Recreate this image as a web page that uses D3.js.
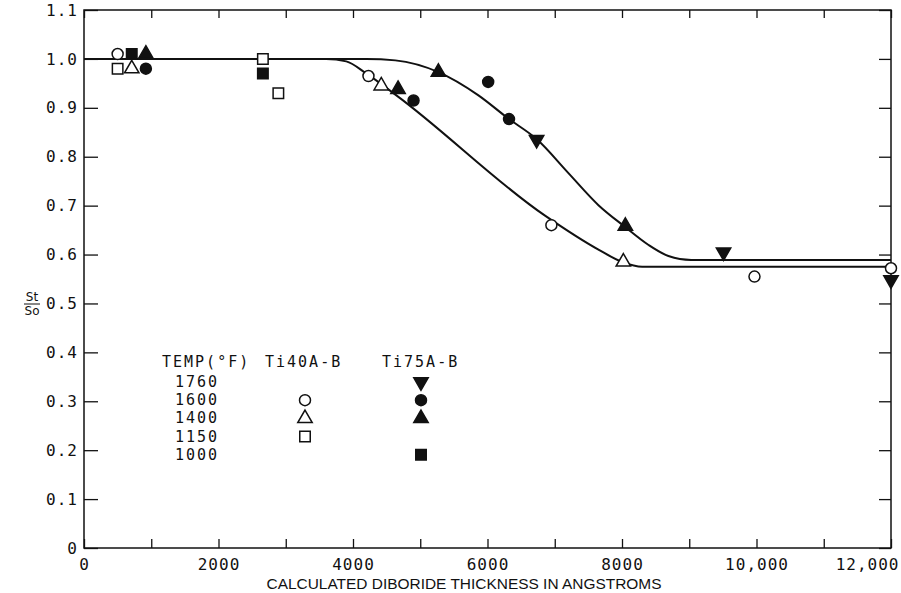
<!DOCTYPE html>
<html>
<head>
<meta charset="utf-8">
<script src="https://cdn.jsdelivr.net/npm/d3@7"></script>
<style>
  body { margin: 0; background: #fff; }
  .axis path { display: none; }
  .axis line { stroke: #111; stroke-width: 1.3px; }
  .axis text { font-family: "DejaVu Sans Mono", monospace; font-size: 16px; letter-spacing: 1px; fill: #111; }
  .legend text { font-family: "DejaVu Sans Mono", monospace; font-size: 15px; letter-spacing: 2px; fill: #111; }
</style>
</head>
<body>
<div class="d3chart"></div>
<script>
// tick values + labels
var xTicks = [0, 1000, 2000, 3000, 4000, 5000, 6000, 7000, 8000, 9000, 10000, 11000, 12000];
var xTickLabels = ["0", "", "2000", "", "4000", "", "6000", "", "8000", "", "10,000", "", "12,000"];
var yTicks = [0, 0.1, 0.2, 0.3, 0.4, 0.5, 0.6, 0.7, 0.8, 0.9, 1.0, 1.1];
var yTickLabels = ["0", "0.1", "0.2", "0.3", "0.4", "0.5", "0.6", "0.7", "0.8", "0.9", "1.0", "1.1"];

// legend rows (temperature, deg F)
var temps = ["1760", "1600", "1400", "1150", "1000"];
var alloys = ["Ti40A-B", "Ti75A-B"];

// measured points [thickness, St/So]
var ti40_1600 = [[500, 1.01], [4230, 0.965], [6950, 0.66], [9970, 0.555], [12000, 0.572]];
var ti40_1400 = [[710, 0.98], [4420, 0.945], [8020, 0.585]];
var ti40_1150 = [[500, 0.98], [2660, 1.0], [2890, 0.93]];
var ti75_1760 = [[6730, 0.835], [9510, 0.605], [12000, 0.548]];
var ti75_1600 = [[920, 0.98], [4900, 0.915], [6010, 0.953], [6320, 0.877]];
var ti75_1400 = [[920, 1.01], [4670, 0.938], [5270, 0.973], [8050, 0.658]];
var ti75_1000 = [[710, 1.01], [2660, 0.97]];

// the two hand drawn fit curves
var lowerCurve = [[0, 1.0], [3600, 1.0], [3900, 0.995], [4200, 0.97], [4650, 0.925], [6850, 0.68],
                  [7650, 0.61], [8000, 0.585], [8300, 0.575], [12000, 0.575]];
var upperCurve = [[0, 1.0], [4200, 1.0], [4630, 0.997], [5270, 0.973], [5860, 0.926], [6320, 0.877],
                  [6730, 0.836], [7200, 0.767], [7650, 0.701], [8050, 0.656], [8390, 0.62],
                  [8690, 0.597], [9030, 0.589], [12000, 0.589]];

var series = [
  {alloy: 0, temp: "1600", shape: "circle", filled: false, data: ti40_1600},
  {alloy: 0, temp: "1400", shape: "triangle", filled: false, data: ti40_1400},
  {alloy: 0, temp: "1150", shape: "square", filled: false, data: ti40_1150},
  {alloy: 1, temp: "1760", shape: "down", filled: true, data: ti75_1760},
  {alloy: 1, temp: "1600", shape: "circle", filled: true, data: ti75_1600},
  {alloy: 1, temp: "1400", shape: "triangle", filled: true, data: ti75_1400},
  {alloy: 1, temp: "1000", shape: "square", filled: true, data: ti75_1000}
];

var margin = {top: 10, right: 10, bottom: 45, left: 84}
  , width = 901 - margin.left - margin.right
  , height = 593 - margin.top - margin.bottom;

var xScale = d3.scaleLinear().domain([0, 12000]).range([0, width]);
var yScale = d3.scaleLinear().domain([0, 1.1]).range([height, 0]);

var svg = d3.select(".d3chart").append("svg")
    .attr("width", 901)
    .attr("height", 593)
    .style("background", "#fff")
  .append("g")
    .attr("transform", "translate(" + margin.left + "," + margin.top + ")");

// frame
svg.append("rect")
    .attr("width", width)
    .attr("height", height)
    .style("fill", "none")
    .style("stroke", "#111")
    .style("stroke-width", 1.5);

// bottom axis, ticks point inward
var xAxisG = svg.append("g")
    .attr("class", "axis")
    .attr("transform", "translate(0," + height + ")")
    .call(d3.axisBottom(xScale).tickValues(xTicks).tickSize(-9).tickPadding(11)
      .tickFormat(function(d, i) { return xTickLabels[i]; }));

// last label sits inside the page like in the scan
xAxisG.selectAll(".tick text")
    .filter(function(d) { return d == 12000; })
    .attr("text-anchor", "end")
    .attr("x", 8);

svg.append("g")
    .attr("class", "axis")
    .call(d3.axisTop(xScale).tickValues(xTicks).tickSize(-8).tickFormat(""));

svg.append("g")
    .attr("class", "axis")
    .call(d3.axisLeft(yScale).tickValues(yTicks).tickSize(-14).tickPadding(6)
      .tickFormat(function(d, i) { return yTickLabels[i]; }));

svg.append("g")
    .attr("class", "axis")
    .attr("transform", "translate(" + width + ",0)")
    .call(d3.axisRight(yScale).tickValues(yTicks).tickSize(-12).tickFormat(""));

// x title
svg.append("text")
    .attr("x", 380)
    .attr("y", height + 41)
    .attr("text-anchor", "middle")
    .attr("textLength", 395)
    .attr("lengthAdjust", "spacingAndGlyphs")
    .style("font-family", "'Liberation Sans', Arial, sans-serif")
    .style("font-size", "15px")
    .style("fill", "#111")
    .text("CALCULATED DIBORIDE THICKNESS IN ANGSTROMS");

// y title St/So as a small fraction
var frac = svg.append("g")
    .attr("transform", "translate(" + (32 - margin.left) + "," + (305 - margin.top) + ")")
    .style("font-family", "'DejaVu Sans', sans-serif")
    .style("font-size", "12px")
    .style("fill", "#111");
frac.append("text").attr("y", -4).attr("text-anchor", "middle").text("St");
frac.append("line").attr("x1", -8).attr("x2", 8).attr("y1", -1).attr("y2", -1)
    .style("stroke", "#111").style("stroke-width", 1);
frac.append("text").attr("y", 10).attr("text-anchor", "middle").text("So");

// fit curves
var line = d3.line()
    .x(function(d) { return xScale(d[0]); })
    .y(function(d) { return yScale(d[1]); })
    .curve(d3.curveMonotoneX);

[lowerCurve, upperCurve].forEach(function(c) {
  svg.append("path")
      .datum(c)
      .attr("d", line)
      .style("fill", "none")
      .style("stroke", "#111")
      .style("stroke-width", 2);
});

// marker shapes
var symbols = {
  circle: d3.symbol().type(d3.symbolCircle).size(95),
  square: d3.symbol().type(d3.symbolSquare).size(110),
  triangle: d3.symbol().type(d3.symbolTriangle).size(90),
  down: d3.symbol().type(d3.symbolTriangle).size(90)
};

function drawMark(sel, s) {
  sel.attr("d", symbols[s.shape]())
     .style("fill", s.filled ? "#111" : "#fff")
     .style("stroke", "#111")
     .style("stroke-width", 1.5);
}

series.forEach(function(s) {
  svg.selectAll(null)
      .data(s.data)
    .enter().append("path")
      .attr("transform", function(d) {
        return "translate(" + xScale(d[0]) + "," + yScale(d[1]) + ")" + (s.shape == "down" ? " rotate(180)" : "");
      })
      .call(drawMark, s);
});

// legend
var legend = svg.append("g")
    .attr("class", "legend")
    .attr("transform", "translate(" + (162 - margin.left) + "," + (367 - margin.top) + ")");

legend.append("text").attr("x", 0).attr("y", 0).text("TEMP(\u00B0F)");
var colX = [103, 220];
alloys.forEach(function(a, i) {
  legend.append("text").attr("x", colX[i]).attr("y", 0).text(a);
});

var rowY = function(i) { return 15 + i * 18.2; };
temps.forEach(function(t, i) {
  legend.append("text").attr("x", 13).attr("y", rowY(i) + 5).text(t);
});

var markX = [143, 259];
series.forEach(function(s) {
  var r = temps.indexOf(s.temp);
  legend.append("path")
      .attr("transform", "translate(" + markX[s.alloy] + "," + rowY(r) + ")" + (s.shape == "down" ? " rotate(180)" : ""))
      .call(drawMark, s);
});
</script>
</body>
</html>
